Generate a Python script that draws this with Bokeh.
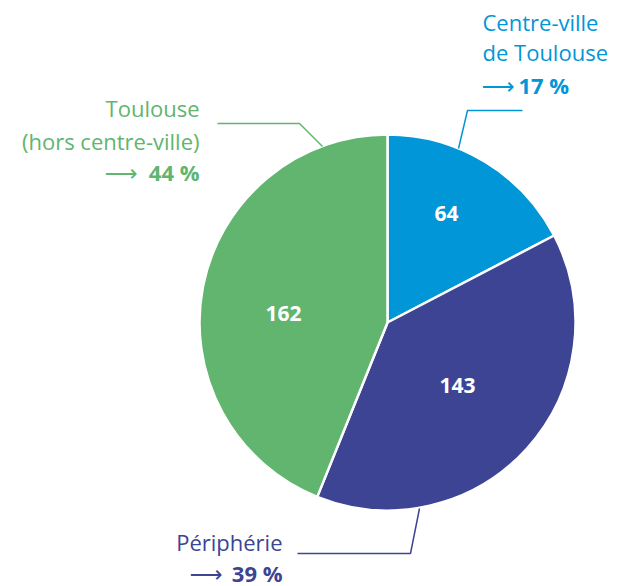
import math
from bokeh.plotting import figure
from bokeh.models import Range1d, ColumnDataSource
from bokeh.core.properties import value
from bokeh.embed import file_html
from bokeh.resources import INLINE

# ---- data ----
categories = ["Centre-ville de Toulouse", "Périphérie", "Toulouse (hors centre-ville)"]
counts = [64, 143, 162]
percent_labels = ["17 %", "39 %", "44 %"]
name_lines = [["Centre-ville", "de Toulouse"], ["Périphérie"], ["Toulouse", "(hors centre-ville)"]]
colors = ["#0096D7", "#3C4493", "#61B56F"]

FONT = "Open Sans"
W, H = 618, 586

def Y(img_y):
    return H - img_y

p = figure(width=W, height=H, output_backend="svg", toolbar_location=None,
           x_range=Range1d(0, W), y_range=Range1d(0, H),
           min_border=0, outline_line_color=None)
p.axis.visible = False
p.grid.visible = False
p.background_fill_color = "white"
p.border_fill_color = "white"

cx, cy, R = 387, Y(322), 188
total = sum(counts)
starts, ends = [], []
cum = 0.0
for c in counts:
    a0 = math.pi / 2 - 2 * math.pi * (cum + c) / total
    a1 = math.pi / 2 - 2 * math.pi * cum / total
    starts.append(a0)
    ends.append(a1)
    cum += c

src = ColumnDataSource(dict(start=starts, end=ends, color=colors, cat=categories, n=counts))
p.wedge(x=cx, y=cy, radius=R, start_angle="start", end_angle="end",
        fill_color="color", line_color="white", line_width=2.5, source=src)

# value labels inside slices
inner_pos = [(446, 213), (457, 385), (283, 313)]
p.text(x=[q[0] for q in inner_pos], y=[Y(q[1]) for q in inner_pos],
       text=[str(c) for c in counts], text_color="white", text_font=value(FONT),
       text_font_style="bold", text_font_size="21px", text_align="center",
       text_baseline="middle")

# leader lines (image coordinates)
leaders = [
    [(522, 110), (467, 110), (458, 148)],
    [(419, 508), (410, 553), (297, 553)],
    [(217, 123), (299, 123), (322, 146)],
]
for pts, col in zip(leaders, colors):
    p.line([q[0] for q in pts], [Y(q[1]) for q in pts], line_color=col, line_width=1.5)

# outer labels
# (x anchor, align, y of lines, y of percent row, arrow x, percent x)
layout = [
    (482, "left", [21, 51], 84, 481, 518),
    (282, "right", [541], 572, 222, 282),
    (199, "right", [107, 140], 171, 137, 199),
]
for (xa, al, ys, yp, ax, px), lines, pct, col in zip(layout, name_lines, percent_labels, colors):
    p.text(x=[xa] * len(lines), y=[Y(v) for v in ys], text=lines, text_color=col,
           text_font=value(FONT), text_font_size="22px", text_align=al,
           text_baseline="middle")
    p.text(x=[ax], y=[Y(yp) - 1], text=["⟶"], text_color=col,
           text_font=value("DejaVu Sans"), text_font_size="23px",
           text_align="left" if al == "left" else "right", text_baseline="middle")
    p.text(x=[px], y=[Y(yp)], text=[pct], text_color=col,
           text_font=value(FONT), text_font_style="bold", text_font_size="22px",
           text_align=al, text_baseline="middle")

open("out.html", "w").write(file_html(p, INLINE))
